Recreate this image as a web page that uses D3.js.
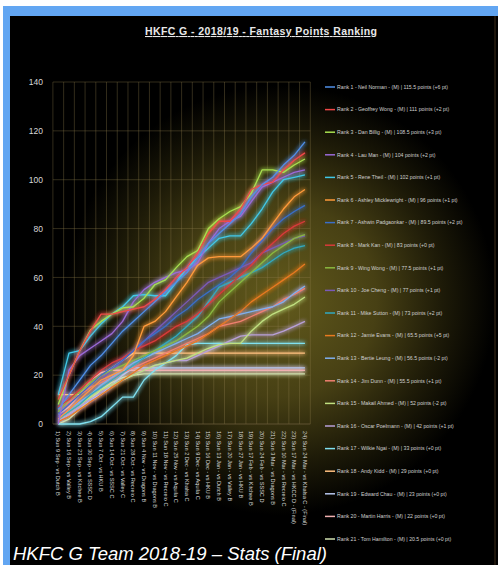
<!DOCTYPE html>
<html>
<head>
<meta charset="utf-8">
<script src="https://cdn.jsdelivr.net/npm/d3@7"></script>
<style>
  html, body { margin: 0; padding: 0; background: #fff; }
  svg { display: block; }
</style>
</head>
<body>
<svg id="chart" width="498" height="565"></svg>
<script>
// Match weeks (x categories)
const weeks = [
    "1) Sun 9 Sep - vs Dutch B", "2) Sun 16 Sep - vs Valley B", "3) Sun 23 Sep - vs Kitchee B",
    "4) Sun 30 Sep - vs SSSC D", "5) Sun 7 Oct - vs HKU B", "6) Sun 14 Oct - vs SSSC C",
    "7) Sun 21 Oct - vs Valley C", "8) Sun 28 Oct - vs Recreio C", "9) Sun 4 Nov - vs Dragons B",
    "10) Sun 11 Nov - vs Dragons B", "11) Sun 18 Nov - vs Recreio C", "12) Sun 25 Nov - vs Aquila C",
    "13) Sun 2 Dec - vs Khalsa C", "14) Sun 9 Dec - vs Aquila C", "15) Sun 16 Dec - vs HKU B",
    "16) Sun 13 Jan - vs Dutch B", "17) Sun 20 Jan - vs Valley B", "18) Sun 27 Jan - vs HKU B",
    "19) Sun 17 Feb - vs Kitchee B", "20) Sun 24 Feb - vs SSSC D", "21) Sun 3 Mar - vs Dragons B",
    "22) Sun 10 Mar - vs Recreio C", "23) Sun 17 Mar - vs HKCC D - (Final)", "24) Sun 24 Mar - vs Khalsa C - (Final)"
];

// Legend info
const players = ["Neil Norman", "Geoffrey Wong", "Dan Billig", "Lau Man", "Rene Theil", "Ashley Micklewright",
    "Ashwin Padgaonkar", "Mark Kan", "Wing Wong", "Joe Cheng", "Mike Sutton", "Jamie Evans", "Bertie Leung",
    "Jim Dunn", "Makail Ahmed", "Oscar Poelmann", "Wilkie Ngai", "Andy Kidd", "Edward Chau", "Martin Harris",
    "Tom Hamilton"];
const totals = ["115.5", "111", "108.5", "104", "102", "96", "89.5", "83", "77.5", "77", "73", "65.5",
    "56.5", "55.5", "52", "42", "33", "29", "23", "22", "20.5"];
const moves = ["+6", "+2", "+3", "+2", "+1", "+1", "+2", "+0", "+1", "+1", "+2", "+5", "-2", "+1", "-2",
    "+1", "+0", "+0", "+0", "+0", "+0"];

// Cumulative points per week, one array per rank
const rank01 = [6, 12, 18, 24, 28, 33, 38, 42, 46, 50, 54, 58, 62, 68, 74, 78, 82, 86, 93, 98, 101, 106, 110, 115.5];
const rank02 = [10, 20, 30, 38, 45, 45, 46, 47, 48, 51, 55, 60, 64, 70, 78, 83, 83, 88, 96, 98, 99, 104, 108, 111];
const rank03 = [8, 20, 30, 38.5, 42, 45, 47.5, 48, 51.5, 57, 59, 64, 68.5, 71, 80, 84, 87, 89, 94.5, 104, 104, 103, 106, 108.5];
const rank04 = [0, 22, 28, 31, 34, 37, 42, 50, 55, 58, 60, 62, 63, 66, 74, 80, 83, 85, 91, 97, 99, 101, 103, 104];
const rank05 = [12, 29, 30, 36, 41, 45, 48, 52.5, 53, 52.5, 52.5, 58, 64, 68, 72, 76, 77, 77, 82, 88, 95, 100, 101, 102];
const rank06 = [2, 6, 10, 14, 18, 20, 22, 28, 40, 42, 46, 52, 58, 65, 68, 68.5, 68.5, 68.5, 72, 76, 82, 88, 93, 96];
const rank07 = [4, 8, 12, 16, 20, 23, 26, 30, 34, 37, 40, 44, 47, 51, 54, 57, 60, 64, 70, 75, 80, 84, 87, 89.5];
const rank08 = [7, 10, 14, 18, 22, 25, 27, 30, 32, 34, 37, 40, 42, 45, 49, 53, 57, 61, 65, 70, 74, 78, 81, 83];
const rank09 = [5, 10, 13, 17, 20, 22, 24, 26, 28, 30, 32, 34, 37, 40, 44, 50, 54, 58, 62, 66, 70, 73, 76, 77.5];
const rank10 = [3, 6, 10, 14, 18, 22, 26, 30, 34, 38, 42, 46, 50, 54, 58, 60, 62, 64, 66, 70, 72, 74, 76, 77];
const rank11 = [2, 5, 8, 12, 15, 18, 21, 24, 27, 30, 33, 36, 40, 44, 50, 56, 58, 60, 62, 64, 67, 70, 72, 73];
const rank12 = [1, 3, 6, 9, 12, 15, 18, 21, 24, 26, 28, 30, 32, 34, 37, 40, 43, 46, 50, 53, 56, 59, 62, 65.5];
const rank13 = [3, 6, 9, 12, 16, 19, 22, 25, 27, 29, 31, 33, 35, 37, 40, 43, 44, 45, 46, 47, 48, 50, 53.5, 56.5];
const rank14 = [6, 9, 12, 15, 17, 19, 21, 23, 25, 27, 29, 31, 33, 35, 37, 40, 41, 42, 44, 46, 48, 51, 53, 55.5];
const rank15 = [2, 5, 8, 11, 14, 16, 18, 20, 22, 24, 25, 26, 27, 29, 31, 32.5, 33, 33, 38, 42, 45, 47, 49, 52];
const rank16 = [1, 4, 7, 10, 13, 16, 18, 20, 22, 24, 25, 26, 26, 28, 30, 32, 34, 36, 36.5, 36.5, 36.5, 38, 40, 42];
const rank17 = [0, 0, 0, 1, 3, 7, 11, 11, 18, 22, 25, 28, 32.5, 33, 33, 33, 33, 33, 33, 33, 33, 33, 33, 33];
const rank18 = [12, 12, 12, 16, 20, 23, 26, 29, 29, 29, 29, 29, 29, 29, 29, 29, 29, 29, 29, 29, 29, 29, 29, 29];
const rank19 = [1, 4, 7, 10, 12, 16, 20, 23, 23, 23, 23, 23, 23, 23, 23, 23, 23, 23, 23, 23, 23, 23, 23, 23];
const rank20 = [4, 7, 12, 18, 21, 22, 22, 22, 22, 22, 22, 22, 22, 22, 22, 22, 22, 22, 22, 22, 22, 22, 22, 22];
const rank21 = [0, 2, 6, 10, 14, 17, 19, 20, 20.5, 20.5, 20.5, 20.5, 20.5, 20.5, 20.5, 20.5, 20.5, 20.5, 20.5, 20.5, 20.5, 20.5, 20.5, 20.5];

const yTicks = [0, 20, 40, 60, 80, 100, 120, 140];

const series = [rank01, rank02, rank03, rank04, rank05, rank06, rank07, rank08, rank09, rank10, rank11,
    rank12, rank13, rank14, rank15, rank16, rank17, rank18, rank19, rank20, rank21];

const palette = ["#4f8fe8", "#f04848", "#a8e050", "#9a6ad8", "#40c8e8", "#ff9a3a", "#3a6ec8", "#d83a3a",
    "#8ab840", "#7a5ab8", "#30a8c0", "#e87a20", "#80b0f0", "#f08070", "#c0e080", "#b8a0d8", "#80e0f0",
    "#ffc080", "#b8c8f0", "#f0b0b0", "#d0e0b0"];

const svg = d3.select("#chart");
const defs = svg.append("defs");

// Page frame
svg.append("rect").attr("x", 3).attr("y", 6).attr("width", 495).attr("height", 559).attr("fill", "#62a6f2");
svg.append("rect").attr("x", 10).attr("y", 16).attr("width", 488).attr("height", 549).attr("fill", "#000");

// Olive glow behind the plot
const glow = defs.append("radialGradient")
    .attr("id", "bgGlow")
    .attr("gradientUnits", "userSpaceOnUse")
    .attr("cx", 280).attr("cy", 300).attr("r", 215);
glow.selectAll("stop")
    .data([[0, "#625a1c"], [0.45, "#474014"], [0.75, "#1e1b08"], [1, "#000"]])
    .enter().append("stop")
    .attr("offset", d => d[0])
    .attr("stop-color", d => d[1]);
svg.append("rect").attr("x", 10).attr("y", 40).attr("width", 484).attr("height", 500).attr("fill", "url(#bgGlow)");
svg.append("line").attr("x1", 495).attr("x2", 495).attr("y1", 16).attr("y2", 565)
    .attr("stroke", "#3a2a18").attr("stroke-width", 1);

// Neon filter for the lines
const neon = defs.append("filter").attr("id", "neon")
    .attr("x", "-10%").attr("y", "-10%").attr("width", "120%").attr("height", "120%");
neon.append("feGaussianBlur").attr("in", "SourceGraphic").attr("stdDeviation", 2.3).attr("result", "blur");
const merge = neon.append("feMerge");
merge.append("feMergeNode").attr("in", "blur");
merge.append("feMergeNode").attr("in", "blur");
merge.append("feMergeNode").attr("in", "SourceGraphic");

// Title
svg.append("text")
    .attr("x", 261).attr("y", 35)
    .attr("text-anchor", "middle")
    .attr("textLength", 232)
    .style("font-family", "'Liberation Sans', Arial, sans-serif")
    .style("font-weight", "bold")
    .style("font-size", "10.5px")
    .style("fill", "#e8e8e8")
    .style("text-decoration", "underline")
    .text("HKFC G - 2018/19 - Fantasy Points Ranking");

// Scales
const x = d3.scalePoint().domain(weeks).range([52.9, 310.3]).padding(0.5);
const y = d3.scaleLinear().domain([0, 140]).range([424, 82]);
const step = x.step();

// Gridlines
const grid = svg.append("g").attr("stroke", "#8c7c4c").attr("stroke-opacity", 0.6).attr("stroke-width", 0.6);
grid.selectAll(".h").data(yTicks.slice(1)).enter().append("line")
    .attr("x1", 52.9).attr("x2", 310.3)
    .attr("y1", d => y(d)).attr("y2", d => y(d));
grid.selectAll(".v").data(weeks.concat(["end"])).enter().append("line")
    .attr("x1", (d, i) => 52.9 + i * step).attr("x2", (d, i) => 52.9 + i * step)
    .attr("y1", y(140)).attr("y2", y(0));
svg.append("line").attr("x1", 52.9).attr("x2", 310.3).attr("y1", y(0)).attr("y2", y(0))
    .attr("stroke", "#6a5a3a").attr("stroke-width", 0.8);

// Y axis
const yAxis = svg.append("g")
    .attr("transform", "translate(46,0)")
    .call(d3.axisLeft(y).tickValues(yTicks).tickSize(0));
yAxis.select(".domain").remove();
yAxis.selectAll("text")
    .style("font-family", "'Liberation Sans', Arial, sans-serif")
    .style("font-size", "8.5px")
    .style("fill", "#d8d8d8");

// X axis labels, rotated
svg.append("g").selectAll("text")
    .data(weeks).enter().append("text")
    .attr("transform", d => `translate(${x(d)},431) rotate(90)`)
    .attr("dy", "0.35em")
    .style("font-family", "'Liberation Sans', Arial, sans-serif")
    .style("font-size", "5.6px")
    .style("fill", "#d8d8d8")
    .text(d => d);

// Lines
const line = d3.line()
    .x((d, i) => x(weeks[i]))
    .y(d => y(d));

svg.append("g").attr("filter", "url(#neon)")
    .selectAll("path")
    .data(series.slice().reverse())
    .enter().append("path")
    .attr("d", line)
    .attr("fill", "none")
    .attr("stroke", (d, i) => palette[series.length - 1 - i])
    .attr("stroke-width", 1.3)
    .attr("stroke-linejoin", "round");

// Legend
const legend = svg.append("g").selectAll("g")
    .data(players).enter().append("g")
    .attr("transform", (d, i) => `translate(325,${87 + i * 22.6})`);
legend.append("line")
    .attr("x1", 0).attr("x2", 10)
    .attr("stroke", (d, i) => palette[i])
    .attr("stroke-width", 1.5);
legend.append("text")
    .attr("x", 12).attr("dy", "0.35em")
    .style("font-family", "'Liberation Sans', Arial, sans-serif")
    .style("font-size", "5.2px")
    .style("fill", "#d0d0d0")
    .text((d, i) => `Rank ${i + 1} - ${d} - (M) | ${totals[i]} points (${moves[i]} pt)`);

// Caption
svg.append("text")
    .attr("x", 13).attr("y", 560)
    .style("font-family", "'Liberation Sans', Arial, sans-serif")
    .style("font-style", "italic")
    .style("font-size", "18.5px")
    .style("fill", "#ffffff")
    .text("HKFC G Team 2018-19 \u2013 Stats (Final)");
</script>
</body>
</html>
